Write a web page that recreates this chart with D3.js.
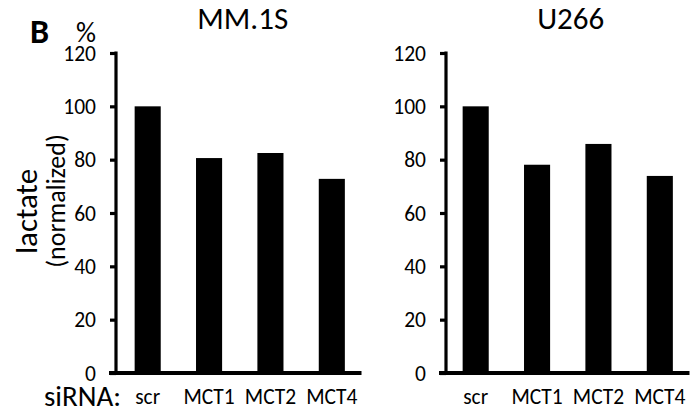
<!DOCTYPE html>
<html><head><meta charset="utf-8">
<script src="https://cdn.jsdelivr.net/npm/d3@7"></script>
<style>body{margin:0;background:#fff}svg{display:block}text{font-family:Carlito,Calibri,Lato,sans-serif;fill:#000}</style>
</head><body><svg id="c" width="692" height="414"></svg>
<script>
const categories = ["scr","MCT1","MCT2","MCT4"];
const titles = ["MM.1S","U266"];
const mm1sValues = [100, 80.6, 82.5, 72.8];
const u266Values = [100, 78.1, 85.9, 73.9];
const yTicks = [0,20,40,60,80,100,120];

const svg = d3.select("#c");
const y = d3.scaleLinear().domain([0,120]).range([373,53]);
const FONT = "Carlito,Calibri,Lato,sans-serif";

const panels = [
  {title: titles[0], values: mm1sValues, x0: 116, x1: 362.5, bx0: 117},
  {title: titles[1], values: u266Values, x0: 446, x1: 690.5, bx0: 445}
];

panels.forEach(p => {
  const g = svg.append("g");
  const x = d3.scaleBand().domain(categories).range([p.bx0, p.x1]).paddingInner(0.575).paddingOuter(0.2875);
  g.selectAll("rect.bar").data(p.values).join("rect")
    .attr("x", (d,i)=>x(categories[i])).attr("width", x.bandwidth())
    .attr("y", d=>y(d)).attr("height", d=>y(0)-y(d)).attr("fill","#000");
  const ya = d3.axisLeft(y).tickValues(yTicks).tickSize(6).tickPadding(14);
  const ag = g.append("g").attr("transform",`translate(${p.x0},0)`).call(ya);
  ag.select(".domain").attr("d",`M0,${y(120)-1.5}V${y(0)}`).attr("stroke","#000").attr("stroke-width",3.2).attr("fill","none");
  ag.selectAll(".tick line").attr("stroke","#000").attr("stroke-width",3.2);
  ag.selectAll(".tick text").attr("fill","#000").attr("dy","0.34em")
    .style("font-size","21.5px").style("font-family",FONT).attr("text-anchor","end");
  g.append("line").attr("x1",p.x0-7).attr("x2",p.x1-1).attr("y1",y(0)).attr("y2",y(0))
    .attr("stroke","#000").attr("stroke-width",4);
  g.selectAll("text.cat").data(categories).join("text").attr("class","cat")
    .attr("x", d=>x(d)+x.bandwidth()/2).attr("y",404).attr("text-anchor","middle")
    .style("font-size","21.5px").text(d=>d);
  g.append("text").attr("x",(p.bx0+p.x1)/2+3).attr("y",29).attr("text-anchor","middle")
    .style("font-size","31px").text(p.title);
});

svg.append("text").attr("x",30).attr("y",43).style("font-size","34px").attr("font-weight","bold").text("B");
svg.append("text").attr("x",76).attr("y",42).style("font-size","28px").text("%");
svg.append("text").attr("x",44).attr("y",406).style("font-size","29px").text("siRNA:");
svg.append("text").attr("transform","translate(37,211.5) rotate(-90)").attr("text-anchor","middle").style("font-size","31px").text("lactate");
svg.append("text").attr("transform","translate(65,201) rotate(-90)").attr("text-anchor","middle").style("font-size","26px").text("(normalized)");
</script></body></html>
